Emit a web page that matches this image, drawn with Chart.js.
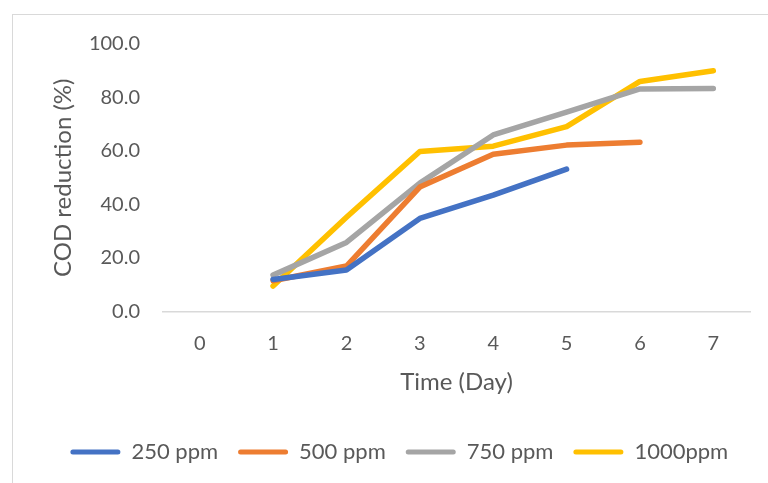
<!DOCTYPE html>
<html>
<head>
<meta charset="utf-8">
<script src="https://cdn.jsdelivr.net/npm/chart.js@4/dist/chart.umd.min.js"></script>
<style>
  html, body { margin: 0; padding: 0; background: #ffffff; overflow: hidden; }
  #frame {
    position: absolute; left: 12px; top: 14px; width: 800px; height: 520px;
    border: 1.5px solid #d9d9d9; box-sizing: border-box;
  }
  #wrap { position: absolute; left: 0; top: 0; width: 768px; height: 483px; }
</style>
</head>
<body>
<div id="frame"></div>
<div id="wrap"><canvas id="chart" width="768" height="483"></canvas></div>
<script>
// Days on the horizontal axis
const days = ['0', '1', '2', '3', '4', '5', '6', '7'];

// COD reduction (%) per dose
const ppm250  = [null, 12.0, 15.5, 34.8, 43.5, 53.2];
const ppm500  = [null, 11.5, 17.0, 46.5, 58.8, 62.2, 63.3];
const ppm750  = [null, 13.6, 25.8, 48.0, 66.0, 74.5, 83.2, 83.4];
const ppm1000 = [null, 9.5, 35.2, 59.8, 61.8, 69.1, 86.0, 90.0];

const seriesNames = ['250 ppm', '500 ppm', '750 ppm', '1000ppm'];
const seriesColors = ['#4472C4', '#ED7D31', '#A5A5A5', '#FFC000'];
const seriesData = [ppm250, ppm500, ppm750, ppm1000];

const FONT = 'Lato, "Open Sans", sans-serif';
const TEXT = '#595959';

const datasets = seriesData.map((d, i) => ({
  label: seriesNames[i],
  data: d,
  borderColor: seriesColors[i],
  backgroundColor: seriesColors[i],
  borderWidth: 5.5,
  borderCapStyle: 'round',
  borderJoinStyle: 'round',
  pointRadius: 0,
  pointHoverRadius: 0,
  tension: 0,
  fill: false
}));

new Chart(document.getElementById('chart'), {
  type: 'line',
  data: { labels: days, datasets },
  options: {
    responsive: false,
    animation: false,
    events: [],
    layout: { padding: { left: 48.6, top: 44, right: 18, bottom: 10 } },
    plugins: {
      tooltip: { enabled: false },
      legend: {
        position: 'bottom',
        labels: {
          color: TEXT,
          font: { family: FONT, size: 22 },
          boxWidth: 50,
          boxHeight: 5,
          padding: 20,
          generateLabels(chart) {
            return chart.data.datasets.map((ds, i) => ({
              text: ds.label,
              fillStyle: ds.borderColor,
              strokeStyle: ds.borderColor,
              lineWidth: 0,
              borderRadius: 2.5,
              fontColor: TEXT,
              datasetIndex: i,
              hidden: false
            }));
          }
        }
      }
    },
    scales: {
      x: {
        offset: true,
        grid: { display: false, drawTicks: false },
        border: { display: true, color: '#d9d9d9', width: 1.5 },
        ticks: { color: TEXT, font: { family: FONT, size: 20 }, padding: 20 },
        title: {
          display: true, text: 'Time (Day)', color: TEXT,
          font: { family: FONT, size: 24 }, padding: { top: 0, bottom: 24.6 }
        },
        afterFit(scale) { scale.height = 109.5; }
      },
      y: {
        min: 0, max: 100,
        grid: { display: false, drawTicks: false },
        border: { display: false },
        ticks: {
          stepSize: 20, color: TEXT, font: { family: FONT, size: 20 }, padding: 23,
          callback: v => Number(v).toFixed(1)
        },
        title: {
          display: true, text: 'COD reduction (%)', color: TEXT,
          font: { family: FONT, size: 24 }, padding: { top: 0, bottom: 0 }
        },
        afterFit(scale) { scale.width = 114.4; }
      }
    }
  }
});
</script>
</body>
</html>
